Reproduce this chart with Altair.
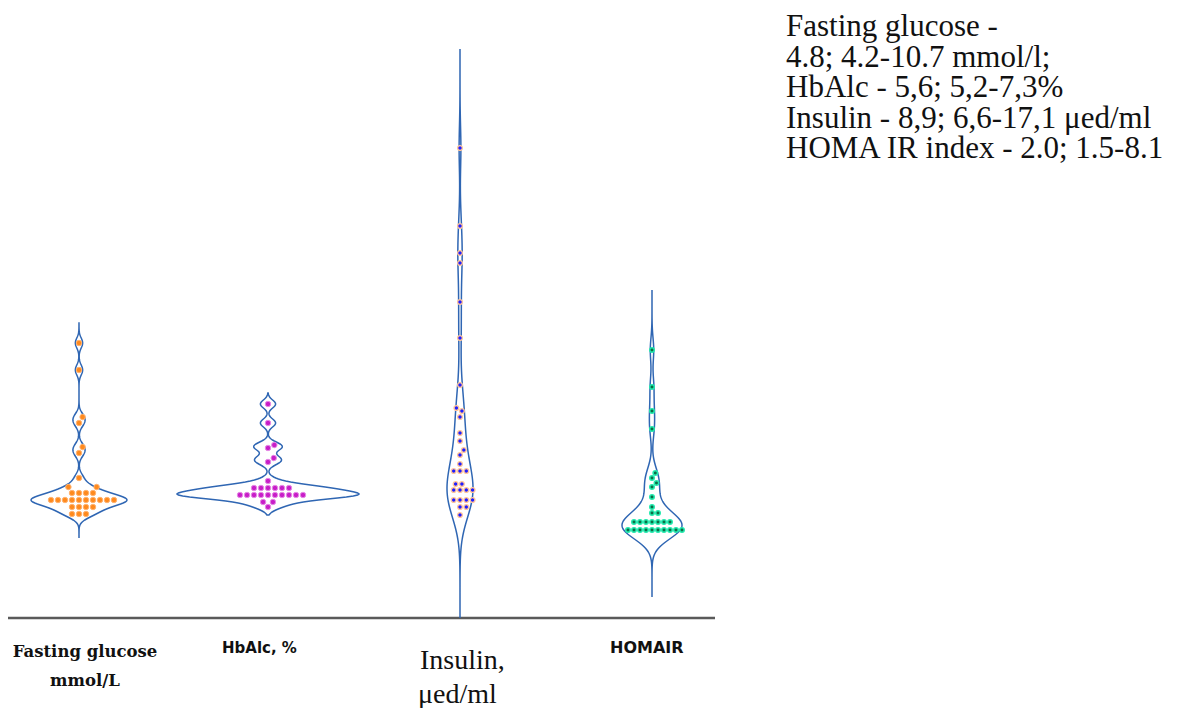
import altair as alt
import numpy as np
import pandas as pd

# ---------------- data (levels = height above the baseline, chart units) ----
groups = ["Fasting glucose", "HbAlc", "Insulin", "HOMA IR"]

glucose = [275, 248, 201, 195, 171, 165, 140, 131, 131,
           125, 125, 125, 125,
           118, 118, 118, 118, 118, 118, 118, 118, 118, 118,
           111, 111, 111, 111,
           104, 104, 104]
hba1c = [214, 195, 173, 170, 160, 156, 137,
         130, 130, 130, 130, 130, 130,
         123, 123, 123, 123, 123, 123, 123, 123, 123, 123,
         116, 116, 111]
insulin = [470, 392, 365, 355, 316, 280, 233, 210, 207, 201,
           185, 177, 168, 163, 154, 147, 147, 147, 134, 134,
           128, 128, 128, 128, 118, 118, 118, 118, 111, 111, 103]
homa = [268, 231, 207, 189, 145, 140, 135, 131, 121, 111, 105, 105,
        96, 96, 96, 96, 96, 96, 96,
        88, 88, 88, 88, 88, 88, 88, 88, 88, 88]

category_labels = [["Fasting glucose", "mmol/L"], ["HbAlc, %"], ["Insulin,", "μed/ml"], ["HOMAIR"]]
summary_lines = ["Fasting glucose -",
                 "4.8; 4.2-10.7 mmol/l;",
                 "HbAlc - 5,6; 5,2-7,3%",
                 "Insulin - 8,9; 6,6-17,1 μed/ml",
                 "HOMA IR index - 2.0; 1.5-8.1"]

# ---------------- layout / style ----------------
W, H = 1164, 700
xs = alt.Scale(domain=[8, 8 + W], nice=False, zero=False)
ys = alt.Scale(domain=[-90, 610], nice=False, zero=False)

SERIF = "'Liberation Serif', 'Times New Roman', Tinos, serif"
SERIF_BOLD = "'DejaVu Serif', 'Liberation Serif', serif"
SANS = "'DejaVu Sans', 'Liberation Sans', Arial, sans-serif"

layout = {
    # center, kde bandwidth, tail below, tail above, max half width, dot diameter
    "Fasting glucose": dict(cx=79, bw=5.0, lo=24, hi=20, hw=48, d=7.0),
    "HbAlc": dict(cx=268, bw=4.0, lo=8, hi=11, hw=91, d=7.0),
    "Insulin": dict(cx=460, bw=22.0, lo=103, hi=99, hw=13, d=6.3),
    "HOMA IR": dict(cx=652, bw=12.0, lo=67, hi=60, hw=30, d=6.0),
}
styles = {
    "Fasting glucose": dict(fill="#ff8a1e", stroke="#ffb370", strokeWidth=1, size=30),
    "HbAlc": dict(fill="#c81ec8", stroke="#e68ae6", strokeWidth=1, size=30),
    "Insulin": dict(fill="#1f1fff", stroke="#ffc49a", strokeWidth=1.4, size=22),
    "HOMA IR": dict(fill="#0b6e46", stroke="#22eaae", strokeWidth=1.5, size=20),
}
VIOLIN = "#2f66b3"


def swarm(vals, d):
    vals = np.asarray(vals, float)
    order = np.argsort(vals, kind="stable")
    placed = []
    offs = np.zeros(len(vals))
    for i in order:
        y = vals[i]
        near = [(px, py) for px, py in placed if abs(py - y) < d]
        cands = [0.0]
        for px, py in near:
            dx = np.sqrt(d * d - (py - y) ** 2)
            cands += [px + dx, px - dx]
        cands.sort(key=lambda c: (round(abs(c), 6), -c))
        for c in cands:
            if all((c - px) ** 2 + (y - py) ** 2 >= d * d - 1e-6 for px, py in near):
                offs[i] = c
                break
        placed.append((offs[i], y))
    return offs


def violin(vals, p):
    v = np.asarray(vals, float)
    grid = np.arange(v.min() - p["lo"], v.max() + p["hi"] + 0.5, 1.0)
    dens = np.exp(-0.5 * ((grid[:, None] - v[None, :]) / p["bw"]) ** 2).sum(1)
    hw = dens / dens.max() * p["hw"]
    xr = p["cx"] + hw
    xl = p["cx"] - hw
    xx = np.concatenate([xr, xl[::-1], [xr[0]]])
    yy = np.concatenate([grid, grid[::-1], [grid[0]]])
    return xx, yy


series = dict(zip(groups, [glucose, hba1c, insulin, homa]))

vrows = []
prow_frames = {}
for g in groups:
    p = layout[g]
    xx, yy = violin(series[g], p)
    for k, (a, b) in enumerate(zip(xx, yy)):
        vrows.append(dict(group=g, o=k, x=a, level=b))
    offs = swarm(series[g], p["d"])
    prow_frames[g] = pd.DataFrame({"x": p["cx"] + offs, "level": series[g]})
vdf = pd.DataFrame(vrows)

violins = alt.Chart(vdf).mark_line(color=VIOLIN, strokeWidth=1.5).encode(
    x=alt.X("x:Q", scale=xs, axis=None),
    y=alt.Y("level:Q", scale=ys, axis=None),
    detail="group:N",
    order="o:Q",
)

point_layers = []
for g in groups:
    s = styles[g]
    point_layers.append(
        alt.Chart(prow_frames[g]).mark_point(
            filled=True, shape="circle", fill=s["fill"], stroke=s["stroke"],
            strokeWidth=s["strokeWidth"], size=s["size"], opacity=1,
        ).encode(x=alt.X("x:Q", scale=xs, axis=None), y=alt.Y("level:Q", scale=ys, axis=None))
    )

baseline = alt.Chart(pd.DataFrame({"x": [8], "x2": [715], "level": [0]})).mark_rule(
    color="#5a5a5a", strokeWidth=2.5
).encode(x=alt.X("x:Q", scale=xs, axis=None), x2="x2:Q", y=alt.Y("level:Q", scale=ys, axis=None))


def text_layer(rows, **kw):
    df = pd.DataFrame(rows, columns=["text", "x", "level"])
    return alt.Chart(df).mark_text(baseline="alphabetic", color="#111111", **kw).encode(
        x=alt.X("x:Q", scale=xs, axis=None),
        y=alt.Y("level:Q", scale=ys, axis=None),
        text="text:N",
    )


lab_glu = text_layer([[category_labels[0][0], 85, 618 - 657], [category_labels[0][1], 85, 618 - 686]],
                     align="center", font=SERIF_BOLD, fontWeight="bold", fontSize=16.5)
lab_hba = text_layer([[category_labels[1][0], 222, 618 - 653]],
                     align="left", font=SANS, fontWeight="bold", fontSize=15)
lab_ins = text_layer([[category_labels[2][0], 420, 618 - 669], [category_labels[2][1], 418, 618 - 703]],
                     align="left", font=SERIF, fontSize=28)
lab_homa = text_layer([[category_labels[3][0], 610, 618 - 653]],
                      align="left", font=SANS, fontWeight="bold", fontSize=16)

summary_rows = [[t, 786, 618 - b] for t, b in zip(summary_lines, [36, 66.5, 97, 127.5, 158])]
summary = text_layer(summary_rows, align="left", font=SERIF, fontSize=31)

chart = alt.layer(
    baseline, violins, *point_layers, lab_glu, lab_hba, lab_ins, lab_homa, summary
).properties(width=W, height=H, padding=0, autosize="none", background="white").configure_view(stroke=None)

chart.save("out.html", embed_options={"renderer": "svg", "actions": False})
